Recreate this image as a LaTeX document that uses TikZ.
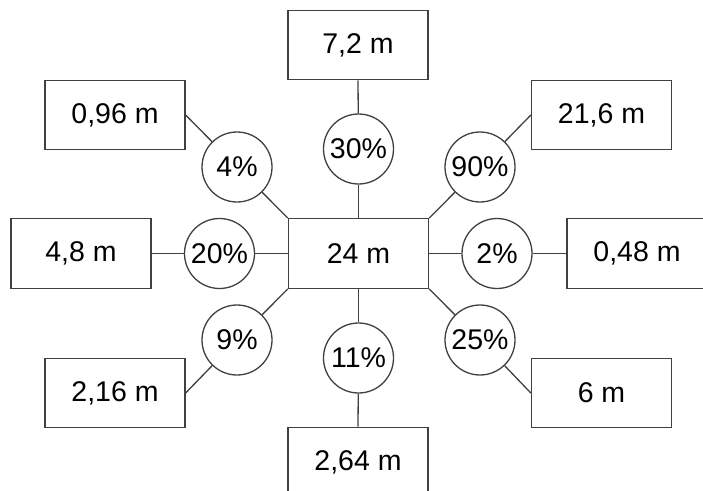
\documentclass[tikz,border=0pt]{standalone}
\usepackage{fontspec}
\setmainfont{Liberation Sans}
\begin{document}
\begin{tikzpicture}[x=1pt,y=-1pt,
  every node/.style={font=\fontsize{28.5}{34}\selectfont, text=black},
  valbox/.style={draw=black!75, line width=1.3pt, fill=white, minimum width=140pt, minimum height=69.5pt, inner sep=0pt},
  pct/.style={draw=black!75, line width=1.3pt, fill=white, circle, minimum size=70pt, inner sep=0pt},
  link/.style={draw=black!75, line width=1.3pt}]
\useasboundingbox (0,0) rectangle (703,490);
\clip (0,0) rectangle (703,490);
% links first (drawn under nodes)
\coordinate (cC) at (358.5,253.5);
\node[valbox] (C) at (358.5,253.5) {24 m};
\node[valbox] (T) at (358,45) {7,2 m};
\node[valbox] (B) at (358,462) {2,64 m};
\node[valbox] (L) at (81,253.5) {4,8 m};
\node[valbox] (R) at (637,253.5) {0,48 m};
\node[valbox] (TL) at (115,115) {0,96 m};
\node[valbox] (TR) at (601.5,115) {21,6 m};
\node[valbox] (BL) at (115,393) {2,16 m};
\node[valbox] (BR) at (601.5,393) {6 m};
\node[pct] (pT) at (358.5,149) {30\%};
\node[pct] (pB) at (358.5,358) {11\%};
\node[pct] (pL) at (219.5,253.5) {20\%};
\node[pct] (pR) at (497,253.5) {2\%};
\node[pct] (pTL) at (237,167) {4\%};
\node[pct] (pTR) at (480,167) {90\%};
\node[pct] (pBL) at (237,340) {9\%};
\node[pct] (pBR) at (480,340) {25\%};
\draw[link] (C.north) -- (pT);
\draw[link] (pT) -- (T.south);
\draw[link] (C.south) -- (pB);
\draw[link] (pB) -- (B.north);
\draw[link] (C.west) -- (pL);
\draw[link] (pL) -- (L.east);
\draw[link] (C.east) -- (pR);
\draw[link] (pR) -- (R.west);
\draw[link] (C.north west) -- (pTL);
\draw[link] (pTL) -- (TL.east);
\draw[link] (C.north east) -- (pTR);
\draw[link] (pTR) -- (TR.west);
\draw[link] (C.south west) -- (pBL);
\draw[link] (pBL) -- (BL.east);
\draw[link] (C.south east) -- (pBR);
\draw[link] (pBR) -- (BR.west);
\end{tikzpicture}
\end{document}
